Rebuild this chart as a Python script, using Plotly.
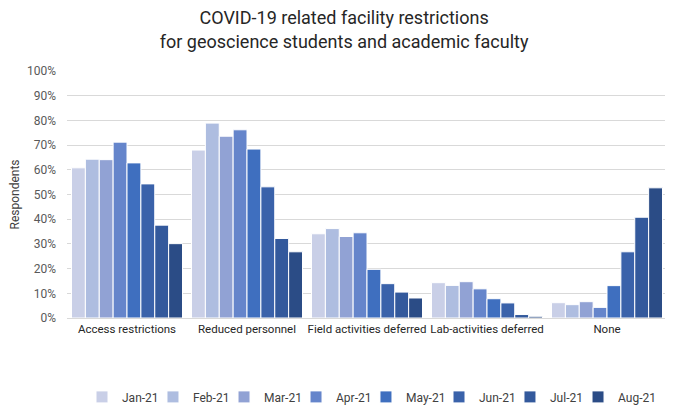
import plotly.graph_objects as go

categories = ["Access restrictions", "Reduced personnel", "Field activities deferred",
              "Lab-activities deferred", "None"]
months = ["Jan-21", "Feb-21", "Mar-21", "Apr-21", "May-21", "Jun-21", "Jul-21", "Aug-21"]

jan21 = [60.8, 68.0, 34.1, 14.3, 6.2]
feb21 = [64.3, 78.9, 36.2, 13.2, 5.4]
mar21 = [64.1, 73.6, 33.0, 14.7, 6.6]
apr21 = [71.2, 76.2, 34.5, 11.8, 4.3]
may21 = [62.8, 68.4, 19.7, 7.8, 13.1]
jun21 = [54.3, 53.1, 13.9, 6.1, 26.8]
jul21 = [37.6, 32.2, 10.5, 1.4, 40.8]
aug21 = [30.1, 26.8, 8.1, 0.7, 52.7]

series = [jan21, feb21, mar21, apr21, may21, jun21, jul21, aug21]
colors = ["#c9cfe7", "#aebde0", "#91a2d4", "#6585cb", "#3f6fbf", "#3a62aa", "#33599c", "#2b4c86"]

# legend entry positions (paper x of each entry's left edge)
legend_x = [0.025, 0.1433, 0.2617, 0.3817, 0.4983, 0.62, 0.7383, 0.8517]

FONT = "Roboto, sans-serif"

fig = go.Figure()
legend_layout = {}
for i, (name, vals, col) in enumerate(zip(months, series, colors)):
    key = "legend" if i == 0 else f"legend{i + 1}"
    fig.add_trace(go.Bar(
        x=categories, y=[v / 100 for v in vals], name=name,
        marker=dict(color=col, line=dict(color="white", width=1)),
        legend=key, showlegend=True,
    ))
    legend_layout[key] = dict(
        visible=True,
        orientation="h", x=legend_x[i], xanchor="left",
        yref="container", y=0.035, yanchor="middle",
        font=dict(size=12, color="#404040"), itemwidth=30,
        bgcolor="rgba(0,0,0,0)",
    )

fig.update_layout(
    width=659, height=403, showlegend=True,
    barmode="group", bargap=0.075, bargroupgap=0.0,
    paper_bgcolor="white", plot_bgcolor="white",
    font=dict(family=FONT, size=12, color="#404040"),
    margin=dict(l=59, r=0, t=63, b=93, autoexpand=False),
    title=dict(
        text="COVID-19 related facility restrictions<br>for geoscience students and academic faculty",
        x=0.51, xanchor="center", y=0.96, yanchor="top",
        font=dict(family=FONT, size=18, color="#262626"),
    ),
    yaxis=dict(
        range=[0, 1.0], tickformat=".0%", dtick=0.1,
        gridcolor="#d9d9d9", gridwidth=1, zeroline=False,
        showline=False, ticks="", ticklen=0, automargin=False,
        ticklabelstandoff=10,
        tickfont=dict(size=12, color="#595959"),
        title=dict(text="Respondents", font=dict(size=12, color="#404040"), standoff=6),
    ),
    xaxis=dict(
        showline=True, linecolor="#d9d9d9", linewidth=1, automargin=False,
        ticks="", tickangle=0, tickfont=dict(size=11.5, color="#262626"),
    ),
    **legend_layout,
)

fig.write_html("out.html")
